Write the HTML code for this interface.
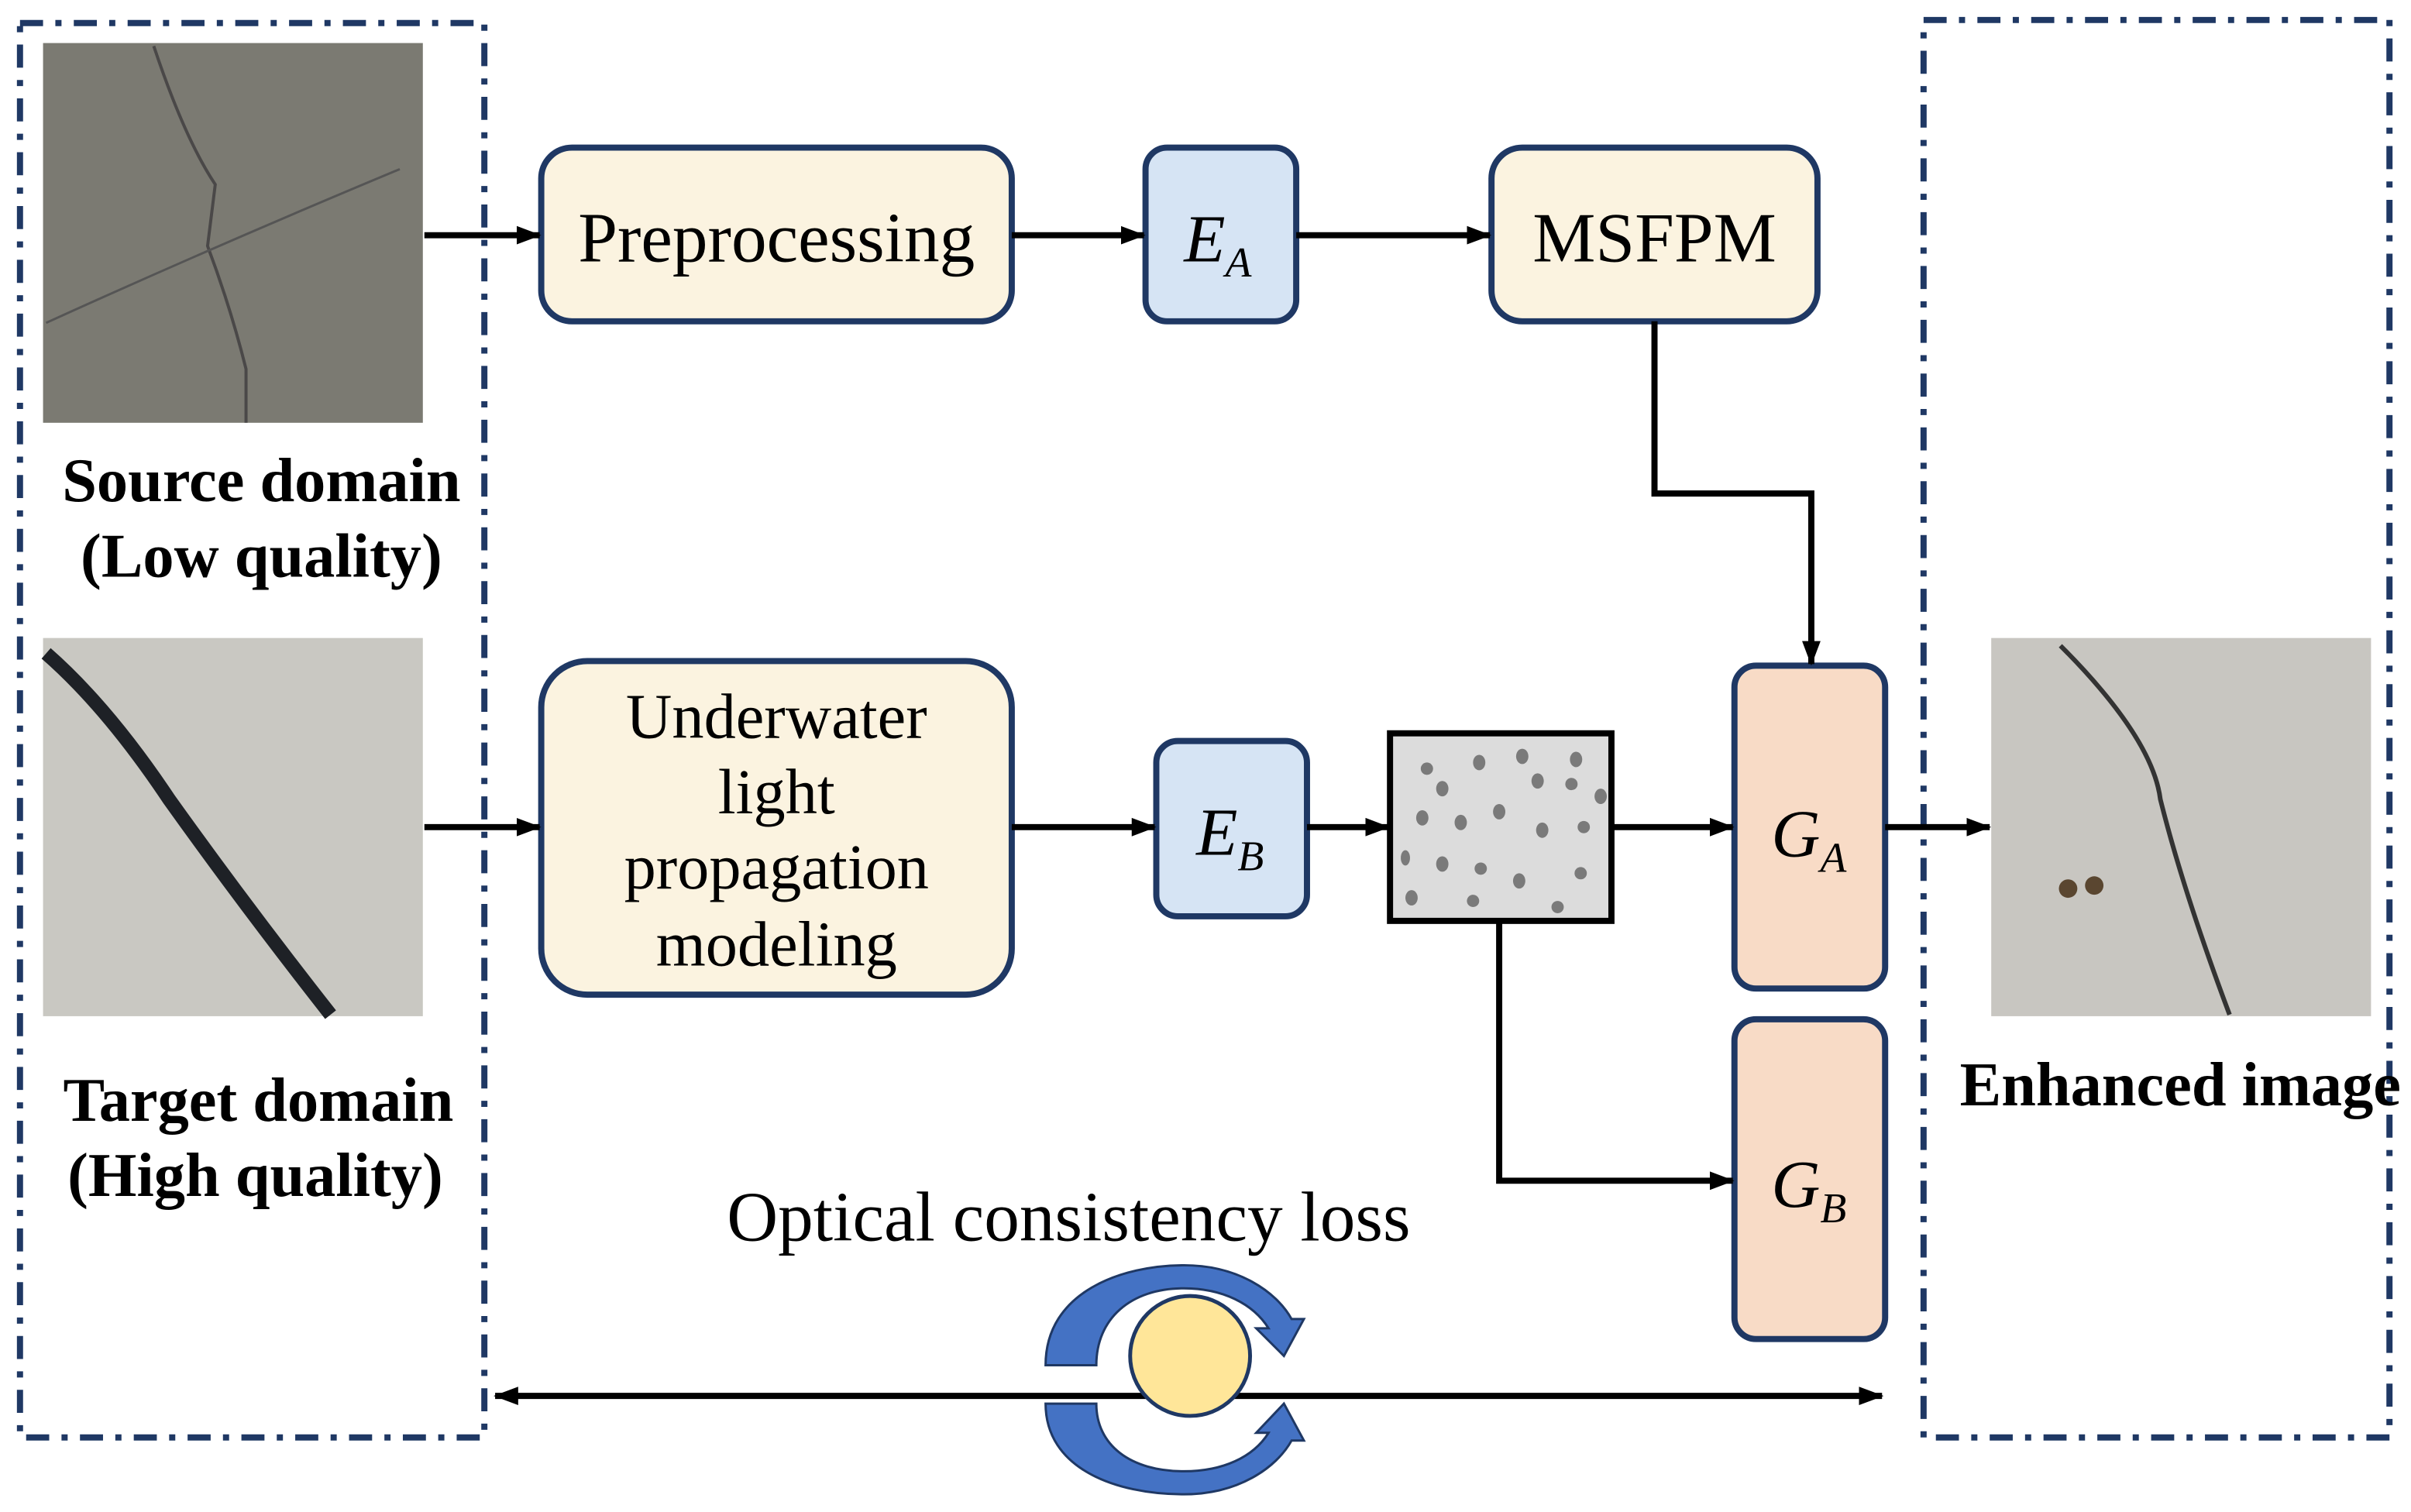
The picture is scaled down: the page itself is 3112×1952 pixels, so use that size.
<!DOCTYPE html>
<html><head><meta charset="utf-8"><style>
html,body{margin:0;padding:0;background:#fff;}
svg{display:block;}
text{font-family:"Liberation Serif",serif;}
</style></head><body>
<svg width="3112" height="1952" viewBox="0 0 1568 983.5" preserveAspectRatio="none" xmlns="http://www.w3.org/2000/svg">
<defs>
<marker id="ah" markerWidth="16" markerHeight="14" refX="15" refY="7" orient="auto" markerUnits="userSpaceOnUse" viewBox="0 0 16 14">
<path d="M0,1 L16,7 L0,13 Z" fill="#000"/></marker>
<marker id="ahs" markerWidth="16" markerHeight="14" refX="1" refY="7" orient="auto" markerUnits="userSpaceOnUse" viewBox="0 0 16 14">
<path d="M16,1 L0,7 L16,13 Z" fill="#000"/></marker>
</defs>
<g fill="none" stroke="#1f3864" stroke-width="4" stroke-dasharray="15 8 4 8">
<rect x="13" y="15" width="302" height="920"/>
<rect x="1251" y="13" width="303" height="922"/>
</g>
<rect x="28" y="28" width="247" height="247" fill="#7b7a72"/>
<path d="M100,30 Q120,90 140,120 L135,160 Q150,200 160,240 L160,275" stroke="#4a4848" stroke-width="2" fill="none"/>
<path d="M30,210 Q140,160 260,110" stroke="#555" stroke-width="1.5" fill="none"/>
<rect x="28" y="415" width="247" height="246" fill="#c9c8c2"/>
<path d="M30,425 Q70,460 110,520 Q160,590 215,660" stroke="#1e2126" stroke-width="9" fill="none"/>
<rect x="1295" y="415" width="247" height="246" fill="#c8c6c1"/>
<path d="M1340,420 Q1400,480 1405,520 Q1420,580 1450,660" stroke="#333" stroke-width="3" fill="none"/>
<circle cx="1345" cy="578" r="6" fill="#5a4630"/><circle cx="1362" cy="576" r="6" fill="#5a4630"/>
<g font-weight="bold" font-size="40.5" text-anchor="middle" fill="#000">
<text x="170" y="326">Source domain</text>
<text x="170" y="375">(Low quality)</text>
<text x="168" y="729">Target domain</text>
<text x="166" y="778">(High quality)</text>
<text x="1418" y="719">Enhanced image</text>
</g>
<g stroke="#1f3864" stroke-width="4">
<rect x="352" y="96" width="306" height="113" rx="20" fill="#fbf3e0"/>
<rect x="745" y="96" width="98" height="113" rx="14" fill="#d6e4f4"/>
<rect x="970" y="96" width="212" height="113" rx="20" fill="#fbf3e0"/>
<rect x="352" y="430" width="306" height="217" rx="30" fill="#fbf3e0"/>
<rect x="752" y="482" width="98" height="114" rx="14" fill="#d6e4f4"/>
<rect x="1128" y="433" width="98" height="210" rx="14" fill="#f8dbc6"/>
<rect x="1128" y="663" width="98" height="208" rx="14" fill="#f8dbc6"/>
</g>
<rect x="904" y="477" width="144" height="122" fill="#dcdcdc" stroke="#000" stroke-width="4"/>
<g fill="#7a7a7a">
<ellipse cx="928" cy="500" rx="4" ry="4"/><ellipse cx="962" cy="496" rx="4" ry="5"/><ellipse cx="990" cy="492" rx="4" ry="5"/><ellipse cx="1025" cy="494" rx="4" ry="5"/>
<ellipse cx="938" cy="513" rx="4" ry="5"/><ellipse cx="1000" cy="508" rx="4" ry="5"/><ellipse cx="1022" cy="510" rx="4" ry="4"/><ellipse cx="1041" cy="518" rx="4" ry="5"/>
<ellipse cx="975" cy="528" rx="4" ry="5"/><ellipse cx="950" cy="535" rx="4" ry="5"/><ellipse cx="925" cy="532" rx="4" ry="5"/><ellipse cx="1003" cy="540" rx="4" ry="5"/><ellipse cx="1030" cy="538" rx="4" ry="4"/>
<ellipse cx="938" cy="562" rx="4" ry="5"/><ellipse cx="963" cy="565" rx="4" ry="4"/><ellipse cx="988" cy="573" rx="4" ry="5"/><ellipse cx="1028" cy="568" rx="4" ry="4"/><ellipse cx="914" cy="558" rx="3" ry="5"/>
<ellipse cx="918" cy="584" rx="4" ry="5"/><ellipse cx="958" cy="586" rx="4" ry="4"/><ellipse cx="1013" cy="590" rx="4" ry="4"/>
</g>
<g font-size="46" text-anchor="middle" fill="#000">
<text x="505" y="170">Preprocessing</text>
<text x="1076" y="170">MSFPM</text>
<text x="505" y="480" font-size="41.5">Underwater</text>
<text x="505" y="529" font-size="41.5">light</text>
<text x="505" y="578" font-size="41.5">propagation</text>
<text x="505" y="628" font-size="41.5">modeling</text>
<text x="695" y="807">Optical consistency loss</text>
</g>
<g font-size="44" font-style="italic" fill="#000">
<text x="770" y="170">E<tspan font-size="28" dy="10">A</tspan></text>
<text x="778" y="556">E<tspan font-size="28" dy="10">B</tspan></text>
<text x="1152" y="557">G<tspan font-size="28" dy="10">A</tspan></text>
<text x="1152" y="785">G<tspan font-size="28" dy="10">B</tspan></text>
</g>
<g stroke="#000" stroke-width="4" fill="none" marker-end="url(#ah)">
<line x1="276" y1="153" x2="351" y2="153"/>
<line x1="658" y1="153" x2="744" y2="153"/>
<line x1="843" y1="153" x2="969" y2="153"/>
<polyline points="1076,209 1076,321 1178,321 1178,432"/>
<line x1="276" y1="538" x2="351" y2="538"/>
<line x1="658" y1="538" x2="751" y2="538"/>
<line x1="850" y1="538" x2="903" y2="538"/>
<line x1="1048" y1="538" x2="1127" y2="538"/>
<line x1="1226" y1="538" x2="1294" y2="538"/>
<polyline points="975,600 975,768 1127,768"/>
<line x1="322" y1="908" x2="1224" y2="908" marker-start="url(#ahs)"/>
</g>
<g fill="#4472c4" stroke="#1f3864" stroke-width="1.5">
<path d="M680,888 C680,840 730,823 770,823 C805,823 830,840 840,858 L848,858 L835,882 L817,864 L825,864 C815,848 795,838 770,838 C735,838 713,858 713,888 Z"/>
<path d="M680,913 C680,955 725,972 770,972 C805,972 830,955 840,937 L848,937 L835,913 L817,932 L825,932 C815,948 795,957 770,957 C735,957 713,940 713,913 Z"/>
</g>
<circle cx="774" cy="882" r="39" fill="#ffe699" stroke="#1f3864" stroke-width="2.5"/>
</svg>
</body></html>
